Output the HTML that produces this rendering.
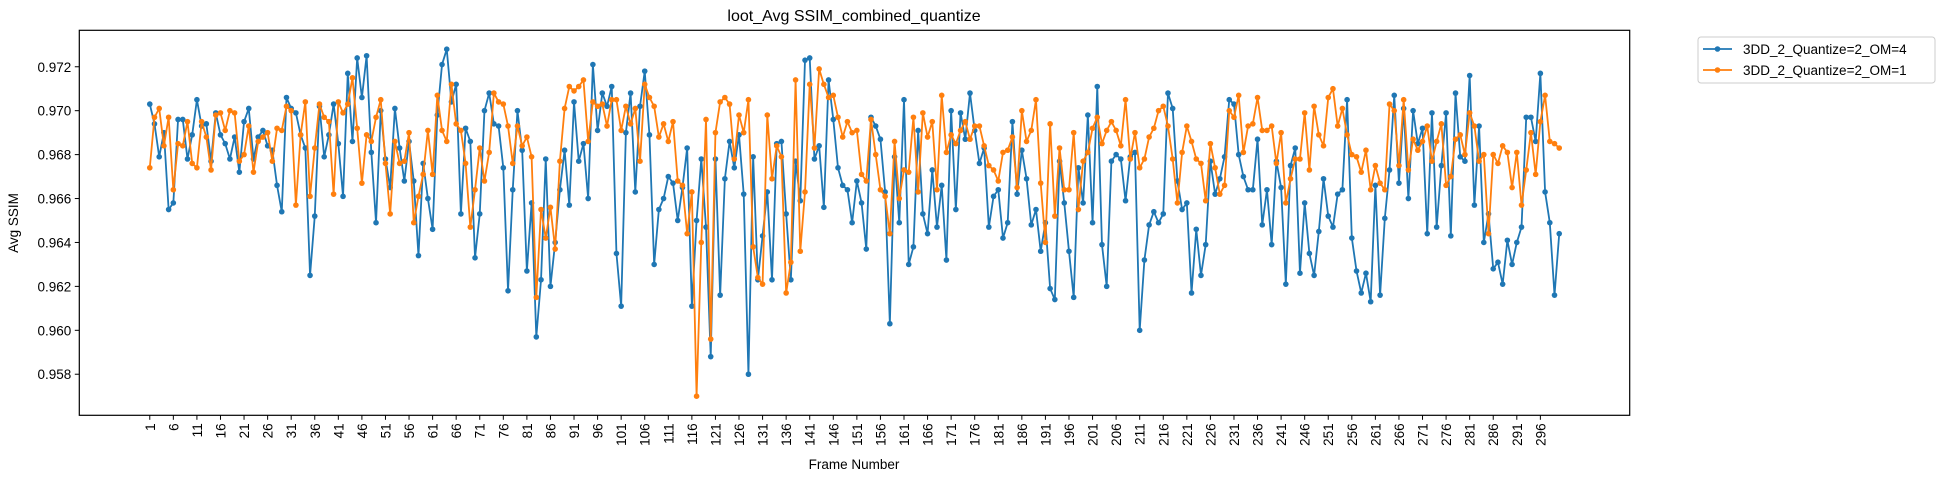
<!DOCTYPE html>
<html><head><meta charset="utf-8"><style>
body{margin:0;background:#fff;}
svg{display:block;font-family:"Liberation Sans","DejaVu Sans",sans-serif;}
</style></head><body>
<svg id="chart" width="1944" height="481" viewBox="0 0 1944 481">
<text x="854" y="21" text-anchor="middle" font-size="16" fill="#000">loot_Avg SSIM_combined_quantize</text>
<g id="grid"></g>
<g id="series"></g>
<rect x="79.3" y="30.3" width="1550.4" height="385" fill="none" stroke="#000" stroke-width="1.2"/>
<g id="axes"></g>
<text x="854" y="469" text-anchor="middle" font-size="13.5" fill="#000">Frame Number</text>
<text transform="translate(18,223) rotate(-90)" text-anchor="middle" font-size="13.5" fill="#000">Avg SSIM</text>
<g>
<rect x="1698" y="37" width="237" height="46" rx="3" fill="#fff" stroke="#ccc" stroke-width="1"/>
<g>
<line x1="1703" y1="49" x2="1732" y2="49" stroke="#1f77b4" stroke-width="1.8"/>
<circle cx="1717.5" cy="49" r="2.8" fill="#1f77b4"/>
<text x="1743" y="54" font-size="13.5" fill="#000">3DD_2_Quantize=2_OM=4</text>
</g>
<g>
<line x1="1703" y1="70" x2="1732" y2="70" stroke="#ff7f0e" stroke-width="1.8"/>
<circle cx="1717.5" cy="70" r="2.8" fill="#ff7f0e"/>
<text x="1743" y="75" font-size="13.5" fill="#000">3DD_2_Quantize=2_OM=1</text>
</g>
</g>
</svg>
<script>
const seriesNames = ["3DD_2_Quantize=2_OM=4", "3DD_2_Quantize=2_OM=1"];
const yTickValues = [0.958, 0.960, 0.962, 0.964, 0.966, 0.968, 0.970, 0.972];
const xTickFrames = [1,6,11,16,21,26,31,36,41,46,51,56,61,66,71,76,81,86,91,96,101,106,111,116,121,126,131,136,141,146,151,156,161,166,171,176,181,186,191,196,201,206,211,216,221,226,231,236,241,246,251,256,261,266,271,276,281,286,291,296];
const om4Values = [
0.9703,0.9694,0.9679,0.9690,0.9655,0.9658,0.9696,0.9696,0.9678,0.9689,
0.9705,0.9693,0.9694,0.9677,0.9699,0.9689,0.9685,0.9678,0.9688,0.9672,
0.9695,0.9701,0.9678,0.9688,0.9691,0.9684,0.9682,0.9666,0.9654,0.9706,
0.9701,0.9699,0.9689,0.9683,0.9625,0.9652,0.9702,0.9679,0.9689,0.9703,
0.9685,0.9661,0.9717,0.9686,0.9724,0.9706,0.9725,0.9681,0.9649,0.9700,
0.9678,0.9665,0.9701,0.9683,0.9668,0.9686,0.9668,0.9634,0.9676,0.9660,
0.9646,0.9698,0.9721,0.9728,0.9704,0.9712,0.9653,0.9692,0.9686,0.9633,
0.9653,0.9700,0.9708,0.9694,0.9693,0.9674,0.9618,0.9664,0.9700,0.9682,
0.9627,0.9658,0.9597,0.9623,0.9678,0.9620,0.9640,0.9664,0.9682,0.9657,
0.9704,0.9677,0.9685,0.9660,0.9721,0.9691,0.9708,0.9702,0.9711,0.9635,
0.9611,0.9690,0.9708,0.9663,0.9702,0.9718,0.9689,0.9630,0.9655,0.9660,
0.9670,0.9667,0.9650,0.9665,0.9683,0.9611,0.9650,0.9678,0.9647,0.9588,
0.9678,0.9616,0.9669,0.9686,0.9674,0.9689,0.9662,0.9580,0.9679,0.9623,
0.9643,0.9663,0.9623,0.9685,0.9686,0.9653,0.9623,0.9677,0.9659,0.9723,
0.9724,0.9678,0.9684,0.9656,0.9714,0.9696,0.9674,0.9666,0.9664,0.9649,
0.9668,0.9658,0.9637,0.9697,0.9693,0.9687,0.9663,0.9603,0.9679,0.9649,
0.9705,0.9630,0.9638,0.9691,0.9653,0.9644,0.9673,0.9647,0.9666,0.9632,
0.9700,0.9655,0.9699,0.9687,0.9708,0.9691,0.9676,0.9683,0.9647,0.9661,
0.9664,0.9642,0.9649,0.9695,0.9662,0.9682,0.9669,0.9648,0.9655,0.9636,
0.9649,0.9619,0.9614,0.9677,0.9658,0.9636,0.9615,0.9674,0.9658,0.9698,
0.9649,0.9711,0.9639,0.9620,0.9677,0.9680,0.9678,0.9659,0.9679,0.9681,
0.9600,0.9632,0.9648,0.9654,0.9649,0.9653,0.9708,0.9701,0.9668,0.9655,
0.9658,0.9617,0.9646,0.9625,0.9639,0.9677,0.9662,0.9669,0.9679,0.9705,
0.9703,0.9680,0.9670,0.9664,0.9664,0.9687,0.9648,0.9664,0.9639,0.9677,
0.9665,0.9621,0.9675,0.9683,0.9626,0.9658,0.9635,0.9625,0.9645,0.9669,
0.9652,0.9647,0.9662,0.9664,0.9705,0.9642,0.9627,0.9617,0.9626,0.9613,
0.9666,0.9616,0.9651,0.9673,0.9707,0.9667,0.9701,0.9660,0.9700,0.9685,
0.9692,0.9644,0.9699,0.9647,0.9675,0.9699,0.9643,0.9708,0.9679,0.9677,
0.9716,0.9657,0.9693,0.9640,0.9653,0.9628,0.9631,0.9621,0.9641,0.9630,
0.9640,0.9647,0.9697,0.9697,0.9686,0.9717,0.9663,0.9649,0.9616,0.9644];
const om1Values = [
0.9674,0.9697,0.9701,0.9684,0.9697,0.9664,0.9685,0.9684,0.9695,0.9676,
0.9674,0.9695,0.9688,0.9673,0.9698,0.9699,0.9691,0.9700,0.9699,0.9677,
0.9680,0.9693,0.9672,0.9686,0.9688,0.9690,0.9677,0.9692,0.9691,0.9702,
0.9700,0.9657,0.9689,0.9704,0.9661,0.9683,0.9703,0.9697,0.9695,0.9662,
0.9704,0.9699,0.9703,0.9715,0.9692,0.9667,0.9689,0.9686,0.9697,0.9705,
0.9676,0.9653,0.9686,0.9676,0.9677,0.9690,0.9649,0.9661,0.9671,0.9691,
0.9671,0.9707,0.9691,0.9686,0.9712,0.9694,0.9691,0.9676,0.9647,0.9664,
0.9683,0.9668,0.9681,0.9708,0.9704,0.9703,0.9693,0.9676,0.9693,0.9684,
0.9688,0.9679,0.9615,0.9655,0.9642,0.9656,0.9637,0.9677,0.9701,0.9711,
0.9709,0.9711,0.9714,0.9686,0.9704,0.9702,0.9703,0.9693,0.9705,0.9705,
0.9691,0.9702,0.9694,0.9701,0.9677,0.9712,0.9706,0.9702,0.9688,0.9694,
0.9686,0.9695,0.9668,0.9666,0.9644,0.9663,0.9570,0.9640,0.9696,0.9596,
0.9690,0.9704,0.9706,0.9703,0.9678,0.9698,0.9690,0.9705,0.9638,0.9624,
0.9621,0.9698,0.9669,0.9684,0.9679,0.9617,0.9631,0.9714,0.9636,0.9663,
0.9712,0.9683,0.9719,0.9712,0.9706,0.9707,0.9697,0.9688,0.9695,0.9690,
0.9691,0.9671,0.9668,0.9696,0.9680,0.9664,0.9661,0.9644,0.9686,0.9660,
0.9673,0.9672,0.9697,0.9663,0.9699,0.9688,0.9695,0.9664,0.9707,0.9681,
0.9689,0.9685,0.9691,0.9695,0.9687,0.9693,0.9693,0.9684,0.9675,0.9673,
0.9668,0.9681,0.9682,0.9688,0.9665,0.9700,0.9686,0.9691,0.9705,0.9667,
0.9640,0.9694,0.9652,0.9683,0.9664,0.9664,0.9690,0.9655,0.9677,0.9681,
0.9692,0.9697,0.9685,0.9691,0.9695,0.9691,0.9684,0.9705,0.9678,0.9690,
0.9674,0.9678,0.9688,0.9692,0.9700,0.9702,0.9693,0.9678,0.9658,0.9681,
0.9693,0.9686,0.9678,0.9676,0.9659,0.9685,0.9674,0.9662,0.9666,0.9700,
0.9697,0.9707,0.9681,0.9693,0.9694,0.9706,0.9691,0.9691,0.9693,0.9676,
0.9690,0.9658,0.9669,0.9678,0.9678,0.9699,0.9673,0.9702,0.9689,0.9684,
0.9706,0.9710,0.9693,0.9701,0.9689,0.9680,0.9679,0.9672,0.9682,0.9664,
0.9675,0.9667,0.9664,0.9703,0.9700,0.9675,0.9705,0.9673,0.9687,0.9682,
0.9686,0.9693,0.9677,0.9686,0.9694,0.9666,0.9670,0.9687,0.9689,0.9680,
0.9699,0.9693,0.9677,0.9680,0.9644,0.9680,0.9676,0.9684,0.9681,0.9665,
0.9681,0.9657,0.9673,0.9690,0.9671,0.9695,0.9707,0.9686,0.9685,0.9683];

const NS = "http://www.w3.org/2000/svg";
const plotL = 79.3, plotR = 1629.7, plotT = 30.3, plotB = 415.3;
const yMin = 0.95613, yMax = 0.97366;
const xMin = -13.95, xMax = 314.95;
function xScale(f){ return plotL + (f - xMin) / (xMax - xMin) * (plotR - plotL); }
function yScale(v){ return plotB - (v - yMin) / (yMax - yMin) * (plotB - plotT); }

const axes = document.getElementById('axes');
yTickValues.forEach(v => {
  const y = yScale(v);
  const t = document.createElementNS(NS, 'line');
  t.setAttribute('x1', plotL - 4.5); t.setAttribute('x2', plotL);
  t.setAttribute('y1', y); t.setAttribute('y2', y);
  t.setAttribute('stroke', '#000'); t.setAttribute('stroke-width', '1');
  
  
  axes.appendChild(t);
  const lab = document.createElementNS(NS, 'text');
  lab.setAttribute('x', plotL - 8); lab.setAttribute('y', y + 5);
  lab.setAttribute('text-anchor', 'end'); lab.setAttribute('font-size', '13.5');
  lab.textContent = v.toFixed(3);
  
  
  axes.appendChild(lab);
});
xTickFrames.forEach(f => {
  const x = xScale(f);
  const t = document.createElementNS(NS, 'line');
  t.setAttribute('x1', x); t.setAttribute('x2', x);
  t.setAttribute('y1', plotB); t.setAttribute('y2', plotB + 4.5);
  t.setAttribute('stroke', '#000'); t.setAttribute('stroke-width', '1');
  
  
  axes.appendChild(t);
  const lab = document.createElementNS(NS, 'text');
  lab.setAttribute('transform', 'translate(' + (x + 5) + ',' + (plotB + 8) + ') rotate(-90)');
  lab.setAttribute('text-anchor', 'end'); lab.setAttribute('font-size', '13.5');
  lab.textContent = String(f);
  
  
  axes.appendChild(lab);
});

const seriesG = document.getElementById('series');
function drawSeries(vals, color, name){
  const g = document.createElementNS(NS, 'g');
  
  
  const pts = vals.map((v, i) => xScale(i + 1).toFixed(2) + ',' + yScale(v).toFixed(2)).join(' ');
  const pl = document.createElementNS(NS, 'polyline');
  pl.setAttribute('points', pts);
  pl.setAttribute('fill', 'none'); pl.setAttribute('stroke', color);
  pl.setAttribute('stroke-width', '1.8'); pl.setAttribute('stroke-linejoin', 'round');
  
  
  g.appendChild(pl);
  vals.forEach((v, i) => {
    const c = document.createElementNS(NS, 'circle');
    c.setAttribute('cx', xScale(i + 1)); c.setAttribute('cy', yScale(v));
    c.setAttribute('r', '2.8'); c.setAttribute('fill', color);
    
    
    g.appendChild(c);
  });
  seriesG.appendChild(g);
}
drawSeries(om4Values, '#1f77b4', 'series-om4');
drawSeries(om1Values, '#ff7f0e', 'series-om1');
</script>
</body></html>
